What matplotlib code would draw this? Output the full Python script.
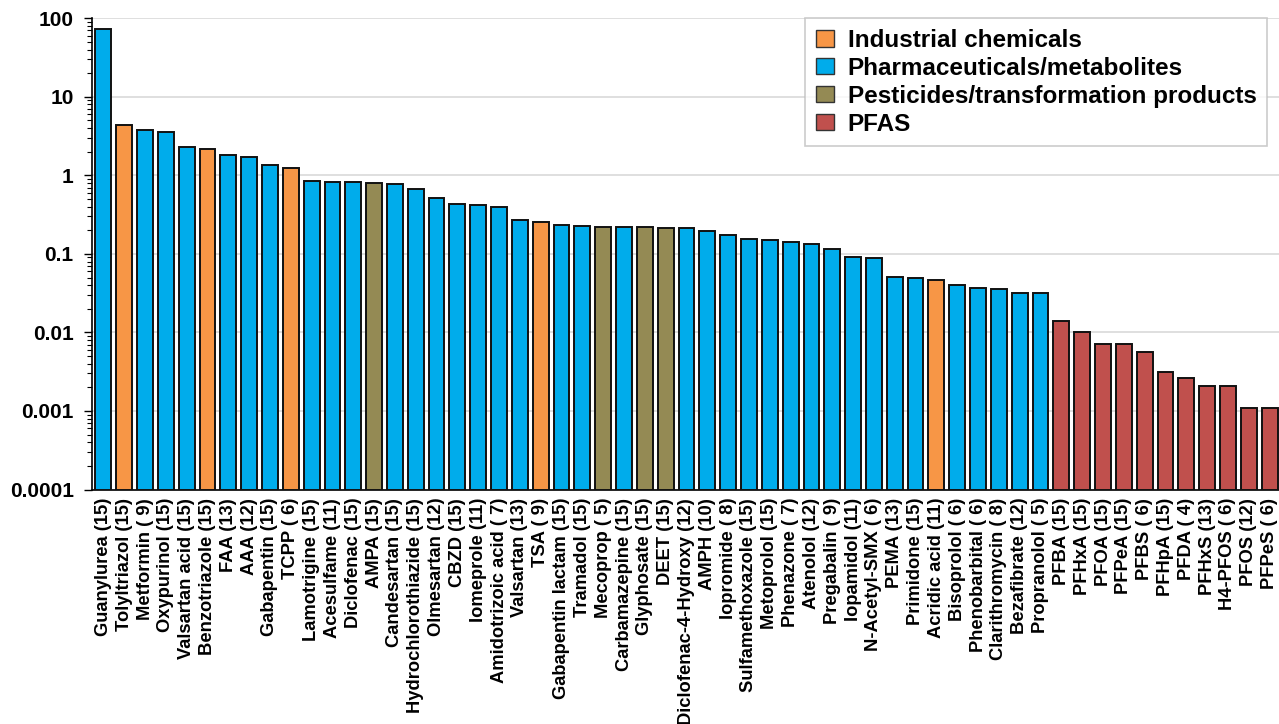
import numpy as np
import matplotlib.pyplot as plt
from matplotlib.patches import Patch

plt.rcParams['font.family'] = ['Liberation Sans', 'DejaVu Sans']
plt.rcParams['font.weight'] = 'bold'

# Compounds (number of detections in brackets), sorted by concentration
labels = [
    'Guanylurea (15)', 'Tolyltriazol (15)', 'Metformin ( 9)', 'Oxypurinol (15)',
    'Valsartan acid (15)', 'Benzotriazole (15)', 'FAA (13)', 'AAA (12)',
    'Gabapentin (15)', 'TCPP ( 6)', 'Lamotrigine (15)', 'Acesulfame (11)',
    'Diclofenac (15)', 'AMPA (15)', 'Candesartan (15)', 'Hydrochlorothiazide (15)',
    'Olmesartan (12)', 'CBZD (15)', 'Iomeprole (11)', 'Amidotrizoic acid ( 7)',
    'Valsartan (13)', 'TSA ( 9)', 'Gabapentin lactam (15)', 'Tramadol (15)',
    'Mecoprop ( 5)', 'Carbamazepine (15)', 'Glyphosate (15)', 'DEET (15)',
    'Diclofenac-4-Hydroxy (12)', 'AMPH (10)', 'Iopromide ( 8)', 'Sulfamethoxazole (15)',
    'Metoprolol (15)', 'Phenazone ( 7)', 'Atenolol (12)', 'Pregabalin ( 9)',
    'Iopamidol (11)', 'N-Acetyl-SMX ( 6)', 'PEMA (13)', 'Primidone (15)',
    'Acridic acid (11)', 'Bisoprolol ( 6)', 'Phenobarbital ( 6)', 'Clarithromycin ( 8)',
    'Bezafibrate (12)', 'Propranolol ( 5)', 'PFBA (15)', 'PFHxA (15)',
    'PFOA (15)', 'PFPeA (15)', 'PFBS ( 6)', 'PFHpA (15)',
    'PFDA ( 4)', 'PFHxS (13)', 'H4-PFOS ( 6)', 'PFOS (12)', 'PFPeS ( 6)',
]

values = [
    73, 4.4, 3.75, 3.6,
    2.28, 2.14, 1.82, 1.69,
    1.36, 1.25, 0.85, 0.82,
    0.815, 0.79, 0.775, 0.665,
    0.516, 0.43, 0.417, 0.39,
    0.267, 0.254, 0.23, 0.228,
    0.222, 0.218, 0.218, 0.215,
    0.215, 0.194, 0.172, 0.156,
    0.152, 0.14, 0.134, 0.117,
    0.092, 0.088, 0.05, 0.0494,
    0.047, 0.040, 0.0366, 0.0355,
    0.032, 0.032, 0.014, 0.010,
    0.007, 0.007, 0.0055, 0.003,
    0.0025, 0.002, 0.002, 0.001, 0.001,
]

# I = industrial, P = pharmaceutical, S = pesticide, F = PFAS
groups = [
    'P', 'I', 'P', 'P',
    'P', 'I', 'P', 'P',
    'P', 'I', 'P', 'P',
    'P', 'S', 'P', 'P',
    'P', 'P', 'P', 'P',
    'P', 'I', 'P', 'P',
    'S', 'P', 'S', 'S',
    'P', 'P', 'P', 'P',
    'P', 'P', 'P', 'P',
    'P', 'P', 'P', 'P',
    'I', 'P', 'P', 'P',
    'P', 'P', 'F', 'F',
    'F', 'F', 'F', 'F',
    'F', 'F', 'F', 'F', 'F',
]

group_names = {
    'I': 'Industrial chemicals',
    'P': 'Pharmaceuticals/metabolites',
    'S': 'Pesticides/transformation products',
    'F': 'PFAS',
}
group_colors = {'I': '#F79646', 'P': '#00ACEB', 'S': '#948A54', 'F': '#C0504D'}

fig = plt.figure(figsize=(12.79, 7.24), dpi=100)
ax = fig.add_axes([91.7 / 1279, 1 - 489.5 / 724, (1279 - 91.7) / 1279, (489.5 - 18.3) / 724])

x = np.arange(len(labels))
ax.bar(x, values, width=0.76, color=[group_colors[g] for g in groups],
       edgecolor='#111111', linewidth=1.4, zorder=3, bottom=1e-4)

ax.set_yscale('log')
ax.set_ylim(1e-4, 100)
ax.set_xlim(-0.56, len(labels) - 0.55)
ax.set_yticks([1e-4, 1e-3, 1e-2, 1e-1, 1, 10, 100])
ax.set_yticklabels(['0.0001', '0.001', '0.01', '0.1', '1', '10', '100'])
ax.tick_params(axis='y', which='major', length=6, width=1, labelsize=15, pad=7)
ax.tick_params(axis='y', which='minor', length=3.5, width=0.8)
ax.set_xticks(x)
ax.set_xticklabels(labels, rotation=90, fontsize=13.2)
ax.tick_params(axis='x', length=0, pad=6)

ax.grid(axis='y', which='major', color='#D9D9D9', linewidth=1.2, zorder=0)
for side in ['top', 'right']:
    ax.spines[side].set_visible(False)
ax.spines['left'].set_linewidth(1.2)
ax.spines['bottom'].set_linewidth(1.2)

handles = [Patch(facecolor=group_colors[k], edgecolor='#333333', label=group_names[k])
           for k in ['I', 'P', 'S', 'F']]
leg = fig.legend(handles=handles, loc='upper left', bbox_to_anchor=(805 / 1279, 1 - 18 / 724),
                 fontsize=17.5, frameon=True, fancybox=False, handlelength=0.75, handleheight=0.65,
                 handletextpad=0.55, labelspacing=0.2, borderpad=0.45, borderaxespad=0)
leg.get_frame().set_edgecolor('#BFBFBF')
leg.get_frame().set_linewidth(1.2)

fig.savefig('out.png', dpi=100)
